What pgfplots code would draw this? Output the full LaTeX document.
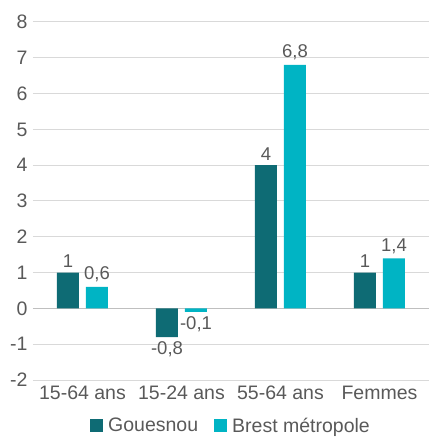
\documentclass[border=0pt]{standalone}
\usepackage{fontspec}
\setmainfont{Liberation Sans}
\usepackage{pgfplots}
\pgfplotsset{compat=1.18}
\definecolor{dteal}{HTML}{0E6B74}
\definecolor{cyanb}{HTML}{00B4C4}
\definecolor{txt}{HTML}{595959}
\definecolor{grd}{HTML}{D9D9D9}
\begin{document}
\begin{tikzpicture}
\begin{axis}[
  scale only axis, width=396pt, height=358pt,
  ymin=-2, ymax=8, xmin=-0.5, xmax=3.5,
  ybar=7pt, bar width=22pt,
  axis line style={draw=none}, tick style={draw=none},
  ymajorgrids, grid style={grd, line width=1pt},
  ytick={-2,-1,0,1,2,3,4,5,6,7,8},
  yticklabels={-2,-1,0,1,2,3,4,5,6,7,8},
  extra y ticks={0}, extra y tick labels={},
  extra y tick style={grid style={black!25, line width=1.6pt}},
  xtick={0,1,2,3}, xticklabels={15-64 ans,15-24 ans,55-64 ans,Femmes},
  tick label style={font=\fontsize{19.5}{21}\selectfont, text=txt},
  yticklabel style={xshift=-2pt},
  xticklabel style={yshift=2pt},
  point meta=explicit symbolic,
  visualization depends on={rawy \as \rawy},
  nodes near coords={\pgfplotspointmeta},
  nodes near coords style={font=\fontsize{18.5}{20}\selectfont, text=txt, inner sep=4.5pt,
    anchor=\ifdim\rawy pt<0pt north\else south\fi},
  legend style={at={(0.5,-0.128)}, anchor=center, draw=none, fill=none,
    legend columns=2, font=\fontsize{19.5}{21}\selectfont, text=txt,
    /tikz/every even column/.append style={column sep=14pt}},
  legend image code/.code={\fill[#1] (0pt,-6.5pt) rectangle (13pt,6.5pt);},
  legend cell align=left,
]
\addplot[fill=dteal, draw=none] table[x=x, y=y, meta=l] {
x y l
0 1 1
1 -0.8 -0,8
2 4 4
3 1 1
};
\addplot[fill=cyanb, draw=none] table[x=x, y=y, meta=l] {
x y l
0 0.6 0,6
1 -0.1 -0,1
2 6.8 6,8
3 1.4 1,4
};
\legend{\hspace{3pt}Gouesnou, \hspace{3pt}Brest métropole}
\end{axis}
\pgfresetboundingbox
\path[use as bounding box] (-33pt,-57pt) rectangle (396pt,380pt);
\end{tikzpicture}
\end{document}
